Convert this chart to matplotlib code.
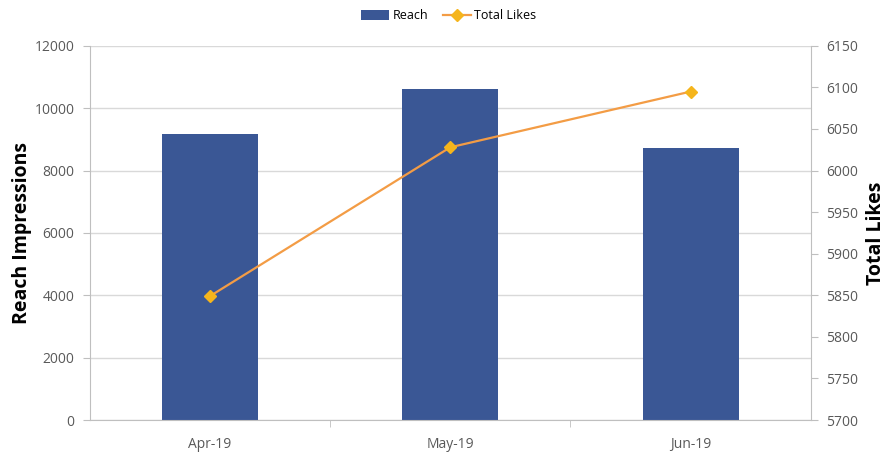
import matplotlib.pyplot as plt
import numpy as np

plt.rcParams['font.family'] = ['Open Sans', 'DejaVu Sans']

# monthly data
months = ['Apr-19', 'May-19', 'Jun-19']
reach = [9170, 10610, 8730]
likes = [5849, 6028, 6095]

bar_color = '#3A5795'
line_color = '#F39C45'
marker_color = '#F5B51C'
grid_color = '#D9D9D9'
tick_color = '#595959'

fig = plt.figure(figsize=(8.89, 4.53), dpi=100)
ax1 = fig.add_axes([0.101, 0.0728, 0.811, 0.826])
ax2 = ax1.twinx()

x = np.arange(len(months))
bars = ax1.bar(x, reach, width=0.40, color=bar_color, label='Reach', zorder=2)
line, = ax2.plot(x, likes, color=line_color, lw=1.6, marker='D', markersize=6,
                 markerfacecolor=marker_color, markeredgecolor=marker_color,
                 label='Total Likes', zorder=3)

ax1.set_xlim(-0.5, 2.5)
ax1.set_ylim(0, 12000)
ax1.set_yticks(np.arange(0, 12001, 2000))
ax2.set_ylim(5700, 6150)
ax2.set_yticks(np.arange(5700, 6151, 50))

ax1.set_xticks(x)
ax1.set_xticklabels(months)
ax1.set_xticks([0.5, 1.5], minor=True)
ax1.tick_params(axis='x', which='major', length=0, pad=12, labelsize=10, labelcolor=tick_color)
ax1.tick_params(axis='x', which='minor', length=5, color='#BFBFBF', direction='out')
ax1.tick_params(axis='y', length=5, color='#BFBFBF', labelsize=10, labelcolor=tick_color, pad=6)
ax2.tick_params(axis='y', length=5, color='#BFBFBF', labelsize=10, labelcolor=tick_color, pad=6)

ax1.yaxis.grid(True, color=grid_color, lw=1, zorder=0)
ax1.set_axisbelow(True)

for ax in (ax1, ax2):
    ax.spines['top'].set_visible(False)
    for s in ('left', 'right', 'bottom'):
        ax.spines[s].set_color('#BFBFBF')
ax2.spines['left'].set_visible(False)
ax2.spines['bottom'].set_visible(False)
ax1.spines['right'].set_visible(False)

ax1.set_ylabel('Reach Impressions', fontsize=14, fontweight='bold', labelpad=2)
ax2.set_ylabel('Total Likes', fontsize=14, fontweight='bold', labelpad=6)

fig.legend(handles=[bars, line], labels=['Reach', 'Total Likes'], loc='center',
           bbox_to_anchor=(0.505, 0.965), ncol=2, frameon=False, fontsize=9,
           handlelength=2.2, handleheight=0.8, columnspacing=1.2, handletextpad=0.3)

fig.savefig('out.png', dpi=100)
